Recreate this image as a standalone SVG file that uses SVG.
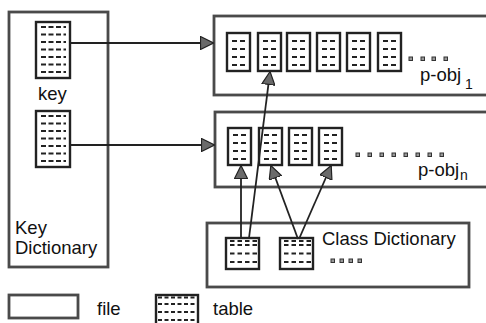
<svg xmlns="http://www.w3.org/2000/svg" xmlns:xlink="http://www.w3.org/1999/xlink" width="486" height="323" viewBox="0 0 486 323">
<style>
.file{fill:none;stroke:#4a4a4a;stroke-width:2.8}
.tb{fill:#fff;stroke:#222;stroke-width:2.4}
.d{stroke:#222;stroke-width:2}
.dot{fill:#999;stroke:#333;stroke-width:1}
.con{stroke:#222;stroke-width:1.8;fill:none}
text{font-family:"Liberation Sans",Arial,sans-serif;fill:#111}
.lbl{font-size:18.5px}
.sub{font-size:14px}
</style>
<defs>
<marker id="ah" viewBox="0 0 14 14" refX="13" refY="7" markerWidth="14" markerHeight="14" markerUnits="userSpaceOnUse" orient="auto">
<path d="M0.5,0.5 L13.5,7 L0.5,13.5 Z" fill="#6a6a6a" stroke="#222" stroke-width="1.2"/>
</marker>
<g id="tKey">
<rect class="tb" x="0" y="0" width="34" height="56"/>
<path class="d" stroke-dasharray="5 2.5" d="M5,5H30M5,12.5H30M5,20H30M5,27.5H30M5,35H30M5,42.5H30M5,50H30"/>
</g>
<g id="tObj">
<rect class="tb" x="0" y="0" width="23" height="38"/>
<path class="d" stroke-dasharray="5 3" d="M5,8H18M5,16H18M5,24H18M5,32H18"/>
</g>
<g id="tObj2">
<rect class="tb" x="0" y="0" width="23" height="37"/>
<path class="d" stroke-dasharray="5 3" d="M5,7H18M5,15H18M5,23H18M5,31H18"/>
</g>
<g id="tCls">
<rect class="tb" x="0" y="0" width="33" height="31"/>
<path class="d" stroke-dasharray="4.5 3" d="M4,3H31M4,7H31M4,15.5H31M4,24H31"/>
</g>
</defs>

<g id="key-dictionary">
<rect class="file" x="9" y="12" width="99" height="255"/>
<use xlink:href="#tKey" x="36" y="22"/>
<text class="lbl" x="38" y="100">key</text>
<use xlink:href="#tKey" x="36" y="111"/>
<text class="lbl" x="15" y="234">Key</text>
<text class="lbl" x="15" y="254">Dictionary</text>
</g>

<g id="p-obj-1">
<rect class="file" x="214" y="16" width="290" height="79"/>
<use xlink:href="#tObj" x="227" y="33"/>
<use xlink:href="#tObj" x="258" y="33"/>
<use xlink:href="#tObj" x="287" y="33"/>
<use xlink:href="#tObj" x="317" y="33"/>
<use xlink:href="#tObj" x="347" y="33"/>
<use xlink:href="#tObj" x="378" y="33"/>
<rect class="dot" x="409" y="57" width="3.5" height="3.5"/>
<rect class="dot" x="421" y="57" width="3.5" height="3.5"/>
<rect class="dot" x="432" y="57" width="3.5" height="3.5"/>
<rect class="dot" x="444" y="57" width="3.5" height="3.5"/>
<text class="lbl" x="420" y="81">p-obj</text>
<text class="sub" x="465" y="89">1</text>
</g>

<g id="p-obj-n">
<rect class="file" x="215" y="112" width="290" height="75"/>
<use xlink:href="#tObj2" x="228" y="128"/>
<use xlink:href="#tObj2" x="259" y="128"/>
<use xlink:href="#tObj2" x="289" y="128"/>
<use xlink:href="#tObj2" x="319" y="128"/>
<rect class="dot" x="356" y="153" width="3.5" height="3.5"/>
<rect class="dot" x="368" y="153" width="3.5" height="3.5"/>
<rect class="dot" x="380" y="153" width="3.5" height="3.5"/>
<rect class="dot" x="392" y="153" width="3.5" height="3.5"/>
<rect class="dot" x="404" y="153" width="3.5" height="3.5"/>
<rect class="dot" x="416" y="153" width="3.5" height="3.5"/>
<rect class="dot" x="428" y="153" width="3.5" height="3.5"/>
<rect class="dot" x="440" y="153" width="3.5" height="3.5"/>
<text class="lbl" x="418" y="176">p-obj</text>
<text class="sub" x="460" y="180">n</text>
</g>

<g id="class-dictionary">
<rect class="file" x="207" y="223" width="262" height="64"/>
<use xlink:href="#tCls" x="226" y="238"/>
<use xlink:href="#tCls" x="280" y="238"/>
<text class="lbl" x="322" y="245">Class Dictionary</text>
<rect class="dot" x="331" y="259" width="3.5" height="3.5"/>
<rect class="dot" x="340" y="259" width="3.5" height="3.5"/>
<rect class="dot" x="349" y="259" width="3.5" height="3.5"/>
<rect class="dot" x="358" y="259" width="3.5" height="3.5"/>
</g>

<g id="connectors">
<line class="con" x1="70" y1="43" x2="213" y2="43" marker-end="url(#ah)"/>
<line class="con" x1="70" y1="145" x2="214" y2="145" marker-end="url(#ah)"/>
<line class="con" x1="241" y1="238" x2="241" y2="166" marker-end="url(#ah)"/>
<line class="con" x1="249" y1="238" x2="270" y2="72" marker-end="url(#ah)"/>
<line class="con" x1="298" y1="239" x2="271" y2="166" marker-end="url(#ah)"/>
<line class="con" x1="299" y1="239" x2="331" y2="166" marker-end="url(#ah)"/>
</g>

<g id="legend">
<rect class="file" x="9" y="295" width="69" height="23"/>
<text class="lbl" x="97" y="315">file</text>
<rect class="tb" x="156" y="295" width="42" height="34"/>
<path class="d" stroke-dasharray="4 2.5" d="M158,297.5H197M158,304H197M158,312H197M158,320H197"/>
<text class="lbl" x="213" y="315">table</text>
</g>
</svg>
